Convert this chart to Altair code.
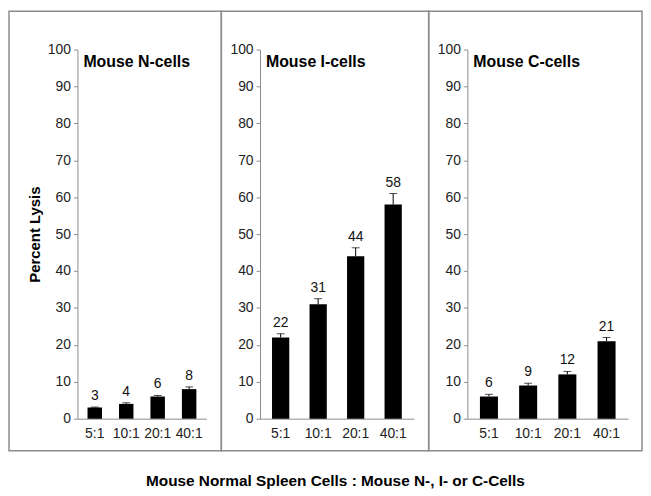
import altair as alt
import pandas as pd

ratios = ['5:1', '10:1', '20:1', '40:1']

n_lysis = [3, 4, 6, 8]
n_err = [0.15, 0.3, 0.3, 0.6]

i_lysis = [22, 31, 44, 58]
i_err = [1.0, 1.5, 2.3, 3.0]

c_lysis = [6, 9, 12, 21]
c_err = [0.6, 0.6, 0.8, 1.0]

FONT = 'Liberation Sans'
BORDER = '#8c8c8c'


def panel(lysis, err, name, width, box, y_title=None, caption=None):
    df = pd.DataFrame({'ratio': ratios, 'lysis': lysis, 'err': err})
    df['top'] = df['lysis'] + df['err']

    x = alt.X('ratio:N', sort=ratios, title=None,
              scale=alt.Scale(paddingInner=0.54, paddingOuter=0.32),
              axis=alt.Axis(labelAngle=0, ticks=False, labelPadding=8))
    y_axis = alt.Axis(values=list(range(0, 101, 10)), tickSize=4, labelPadding=3,
                      labelOverlap=False, titleFontSize=15, titleFontWeight='bold',
                      titlePadding=5, titleColor='#000', titleFont=FONT)

    def y_enc(field):
        if y_title:
            return alt.Y(field, title=y_title, scale=alt.Scale(domain=[0, 100]), axis=y_axis)
        return alt.Y(field, title=None, scale=alt.Scale(domain=[0, 100]), axis=y_axis)

    base = alt.Chart(df).encode(x=x)

    frame = alt.Chart(pd.DataFrame({'panel': [name]})).mark_rect(
        filled=False, stroke=BORDER, strokeWidth=1.5
    ).encode(
        x=alt.value(box[0]), x2=alt.value(box[1]),
        y=alt.value(-38.7), y2=alt.value(404.3)
    )

    bars = base.mark_bar(color='black').encode(y=y_enc('lysis:Q'))
    whisker = base.mark_rule(color='black', strokeWidth=1).encode(
        y=y_enc('lysis:Q'), y2='top:Q'
    )
    cap = base.mark_tick(color='black', size=8, thickness=1).encode(y=y_enc('top:Q'))
    labels = base.mark_text(fontSize=14, font=FONT, color='#111', baseline='alphabetic', dy=-7).encode(
        y=y_enc('top:Q'), text='lysis:Q'
    )
    heading = alt.Chart(pd.DataFrame({'panel': [name]})).mark_text(
        align='left', baseline='alphabetic', fontSize=16, fontWeight='bold', font=FONT, color='#000'
    ).encode(x=alt.value(6), y=alt.value(18), text='panel:N')

    layers = [frame, bars, whisker, cap, labels, heading]
    if caption:
        cap_text = alt.Chart(pd.DataFrame({'caption': [caption]})).mark_text(
            align='center', baseline='alphabetic', fontSize=15.5, fontWeight='bold', font=FONT, color='#000'
        ).encode(x=alt.value(76), y=alt.value(440), text='caption:N')
        layers.append(cap_text)

    return alt.layer(*layers).properties(width=width, height=372)


p1 = panel(n_lysis, n_err, 'Mouse N-cells', 130, (-69, 145), y_title='Percent Lysis')
p2 = panel(i_lysis, i_err, 'Mouse I-cells', 155, (-39, 170),
           caption='Mouse Normal Spleen Cells : Mouse N-, I- or C-Cells')
p3 = panel(c_lysis, c_err, 'Mouse C-cells', 162, (-39, 176))

chart = alt.hconcat(p1, p2, p3, spacing=54, bounds='flush').properties(
    padding=0, background='white'
).configure_view(
    strokeWidth=0
).configure_axis(
    labelFont=FONT, labelFontSize=14, labelColor='#222',
    domainColor=BORDER, tickColor=BORDER, grid=False
)

chart.save('out.html', embed_options={'renderer': 'svg', 'actions': False})
